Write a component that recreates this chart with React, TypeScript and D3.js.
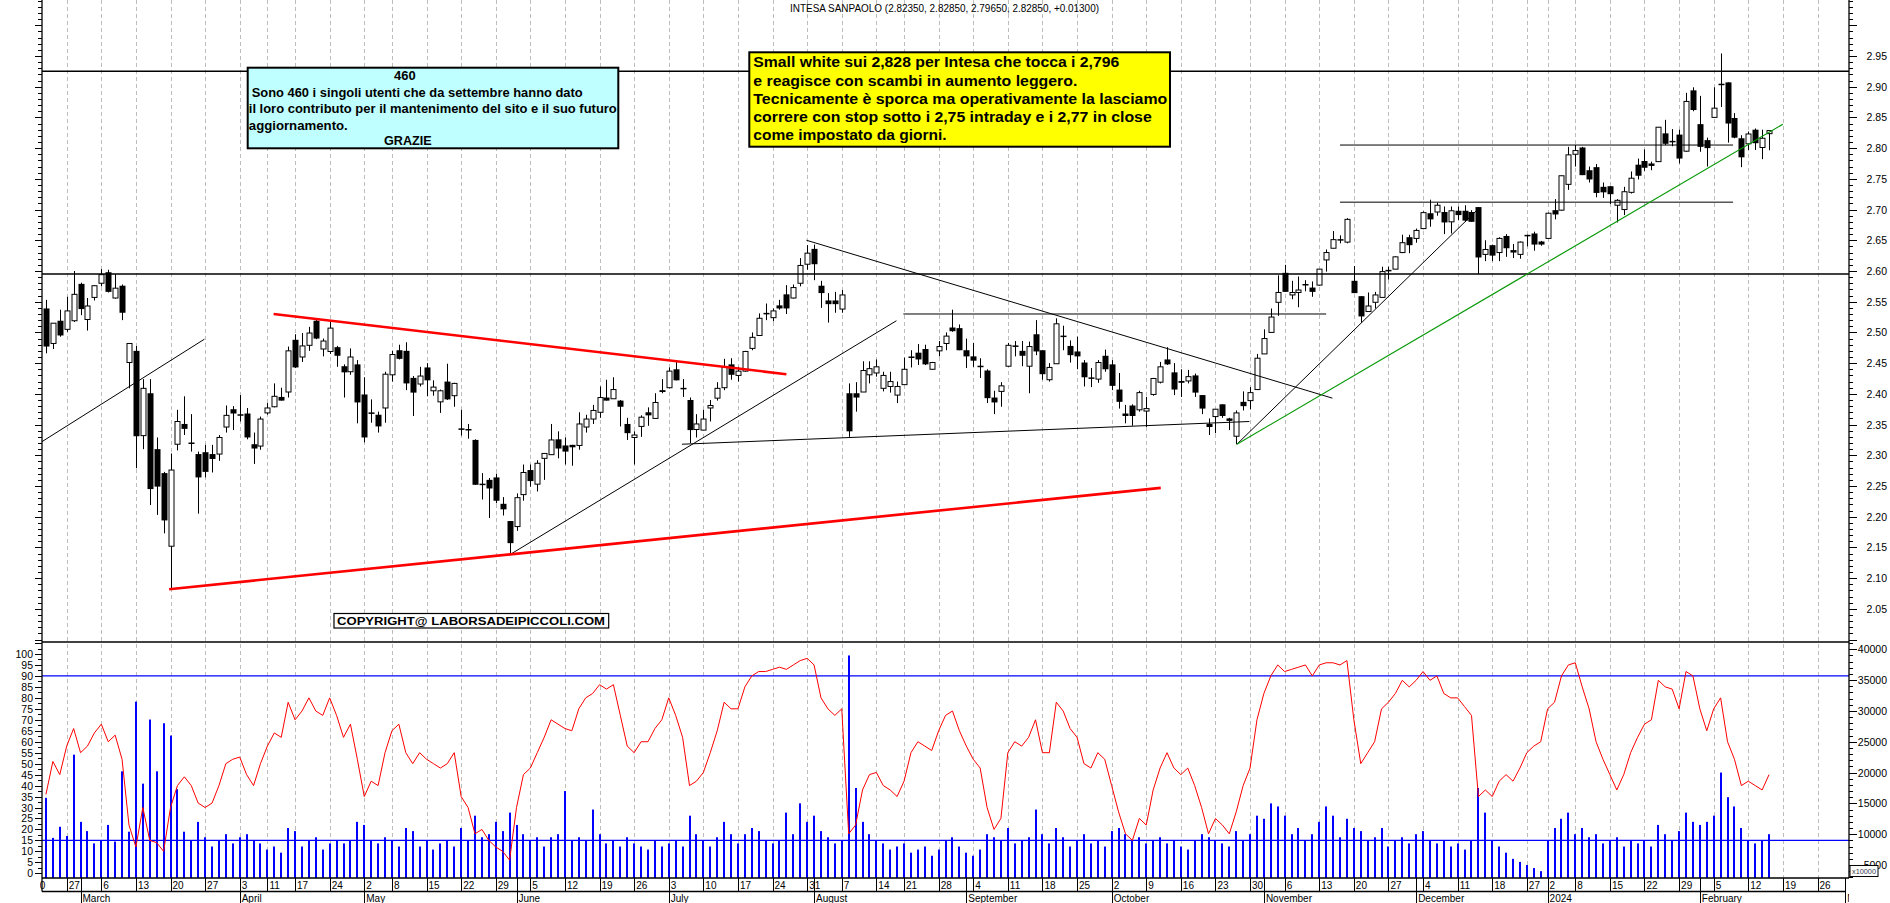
import React from "react";
import * as d3 from "d3";

// ---------- DATA ----------
const TITLE = "INTESA SANPAOLO (2.82350, 2.82850, 2.79650, 2.82850, +0.01300)";
const CAL_START = "2023-02-20";
const CAL_END = "2024-03-08";
const HOLIDAYS = ["2023-04-07", "2023-04-10", "2023-05-01", "2023-08-15", "2023-12-25", "2023-12-26", "2024-01-01"];
const FIRST_CANDLE = "2023-02-22";
const REF_A = "2023-02-27"; // trading day 0 for line anchors
const REF_B = "2024-02-26";
const MONTHS = ["2024", "February", "March", "April", "May", "June", "July", "August", "September", "October", "November", "December"];

// open, high, low, close
const OHLC: [number, number, number, number][] = [
  [2.539, 2.553, 2.466, 2.477], [2.482, 2.515, 2.473, 2.515], [2.519, 2.537, 2.493, 2.495],
  [2.505, 2.558, 2.501, 2.535], [2.519, 2.600, 2.517, 2.562], [2.579, 2.581, 2.528, 2.538],
  [2.521, 2.556, 2.503, 2.543], [2.557, 2.577, 2.552, 2.576], [2.580, 2.603, 2.575, 2.594],
  [2.598, 2.602, 2.565, 2.566], [2.556, 2.595, 2.555, 2.572], [2.576, 2.578, 2.520, 2.532],
  [2.451, 2.482, 2.409, 2.482], [2.470, 2.478, 2.279, 2.331], [2.332, 2.424, 2.310, 2.409],
  [2.401, 2.424, 2.219, 2.245], [2.310, 2.329, 2.203, 2.249], [2.271, 2.273, 2.173, 2.194],
  [2.152, 2.303, 2.084, 2.276], [2.318, 2.374, 2.308, 2.355], [2.351, 2.396, 2.333, 2.343],
  [2.320, 2.367, 2.306, 2.320], [2.302, 2.306, 2.205, 2.264], [2.305, 2.317, 2.264, 2.273],
  [2.302, 2.317, 2.272, 2.294], [2.302, 2.333, 2.291, 2.329], [2.346, 2.381, 2.337, 2.365],
  [2.375, 2.380, 2.341, 2.368], [2.366, 2.398, 2.355, 2.366], [2.368, 2.377, 2.326, 2.329],
  [2.318, 2.337, 2.286, 2.311], [2.315, 2.363, 2.309, 2.359], [2.369, 2.385, 2.366, 2.377],
  [2.379, 2.417, 2.378, 2.396], [2.395, 2.410, 2.389, 2.389], [2.403, 2.477, 2.394, 2.470],
  [2.488, 2.497, 2.442, 2.443], [2.460, 2.499, 2.452, 2.478], [2.479, 2.509, 2.470, 2.499],
  [2.519, 2.523, 2.489, 2.490], [2.473, 2.490, 2.461, 2.486], [2.469, 2.518, 2.465, 2.507],
  [2.476, 2.478, 2.444, 2.462], [2.445, 2.448, 2.394, 2.435], [2.436, 2.474, 2.431, 2.460],
  [2.448, 2.455, 2.352, 2.386], [2.399, 2.427, 2.321, 2.329], [2.369, 2.391, 2.353, 2.369],
  [2.366, 2.371, 2.337, 2.347], [2.377, 2.436, 2.353, 2.432], [2.431, 2.470, 2.420, 2.464],
  [2.471, 2.480, 2.456, 2.457], [2.470, 2.484, 2.406, 2.417], [2.426, 2.429, 2.364, 2.402],
  [2.416, 2.444, 2.412, 2.429], [2.443, 2.450, 2.396, 2.422], [2.405, 2.422, 2.397, 2.411],
  [2.387, 2.407, 2.369, 2.405], [2.420, 2.449, 2.390, 2.391], [2.397, 2.418, 2.379, 2.417],
  [2.343, 2.374, 2.332, 2.343], [2.342, 2.351, 2.327, 2.342], [2.325, 2.326, 2.252, 2.252],
  [2.253, 2.271, 2.228, 2.253], [2.260, 2.263, 2.198, 2.246], [2.264, 2.270, 2.222, 2.226],
  [2.221, 2.232, 2.202, 2.212], [2.193, 2.193, 2.138, 2.157], [2.184, 2.238, 2.177, 2.231],
  [2.236, 2.285, 2.226, 2.272], [2.276, 2.285, 2.249, 2.258], [2.253, 2.292, 2.241, 2.287],
  [2.295, 2.303, 2.260, 2.303], [2.301, 2.351, 2.301, 2.325], [2.326, 2.339, 2.295, 2.311],
  [2.316, 2.329, 2.285, 2.306], [2.317, 2.317, 2.283, 2.313], [2.316, 2.370, 2.309, 2.351],
  [2.346, 2.366, 2.337, 2.359], [2.359, 2.382, 2.351, 2.373], [2.370, 2.412, 2.361, 2.394],
  [2.394, 2.423, 2.389, 2.389], [2.392, 2.427, 2.392, 2.407], [2.389, 2.390, 2.347, 2.379],
  [2.351, 2.361, 2.325, 2.336], [2.329, 2.339, 2.285, 2.333], [2.347, 2.365, 2.330, 2.362],
  [2.370, 2.378, 2.348, 2.365], [2.360, 2.401, 2.360, 2.386], [2.406, 2.424, 2.401, 2.403],
  [2.410, 2.443, 2.409, 2.437], [2.440, 2.455, 2.422, 2.422], [2.409, 2.424, 2.395, 2.407],
  [2.390, 2.394, 2.320, 2.341], [2.342, 2.367, 2.329, 2.351], [2.341, 2.374, 2.341, 2.359],
  [2.377, 2.390, 2.355, 2.381], [2.393, 2.419, 2.389, 2.409], [2.410, 2.457, 2.406, 2.444],
  [2.448, 2.458, 2.423, 2.431], [2.430, 2.444, 2.420, 2.437], [2.437, 2.470, 2.436, 2.469],
  [2.474, 2.500, 2.471, 2.492], [2.495, 2.531, 2.495, 2.523], [2.531, 2.547, 2.520, 2.529],
  [2.524, 2.539, 2.518, 2.535], [2.544, 2.553, 2.537, 2.539], [2.562, 2.577, 2.530, 2.539],
  [2.556, 2.578, 2.555, 2.573], [2.580, 2.621, 2.575, 2.609], [2.611, 2.642, 2.602, 2.629],
  [2.636, 2.643, 2.585, 2.611], [2.576, 2.584, 2.540, 2.564], [2.552, 2.564, 2.516, 2.546],
  [2.552, 2.566, 2.532, 2.546], [2.538, 2.569, 2.532, 2.561], [2.401, 2.417, 2.330, 2.339],
  [2.401, 2.419, 2.371, 2.394], [2.403, 2.453, 2.403, 2.438], [2.431, 2.453, 2.417, 2.441],
  [2.434, 2.456, 2.428, 2.444], [2.409, 2.436, 2.404, 2.430], [2.412, 2.436, 2.402, 2.420],
  [2.398, 2.420, 2.385, 2.412], [2.415, 2.459, 2.415, 2.440], [2.460, 2.471, 2.443, 2.458],
  [2.467, 2.481, 2.447, 2.456], [2.473, 2.480, 2.447, 2.448], [2.440, 2.452, 2.439, 2.451],
  [2.470, 2.486, 2.461, 2.477], [2.482, 2.500, 2.471, 2.494], [2.508, 2.537, 2.501, 2.502],
  [2.507, 2.513, 2.471, 2.471], [2.471, 2.490, 2.442, 2.461], [2.461, 2.483, 2.444, 2.454],
  [2.445, 2.458, 2.426, 2.445], [2.438, 2.440, 2.385, 2.393], [2.394, 2.405, 2.367, 2.386],
  [2.404, 2.419, 2.379, 2.413], [2.445, 2.483, 2.444, 2.479], [2.478, 2.486, 2.461, 2.478],
  [2.470, 2.486, 2.445, 2.462], [2.445, 2.485, 2.401, 2.477], [2.497, 2.520, 2.463, 2.469],
  [2.471, 2.471, 2.423, 2.432], [2.423, 2.450, 2.420, 2.443], [2.449, 2.523, 2.449, 2.514],
  [2.494, 2.511, 2.471, 2.494], [2.478, 2.487, 2.451, 2.463], [2.469, 2.493, 2.440, 2.461],
  [2.451, 2.455, 2.412, 2.427], [2.425, 2.442, 2.411, 2.426], [2.424, 2.455, 2.418, 2.451],
  [2.462, 2.472, 2.436, 2.440], [2.448, 2.455, 2.406, 2.413], [2.407, 2.434, 2.376, 2.387],
  [2.368, 2.382, 2.352, 2.364], [2.381, 2.383, 2.348, 2.364], [2.374, 2.405, 2.371, 2.402],
  [2.372, 2.395, 2.346, 2.376], [2.399, 2.426, 2.397, 2.425], [2.419, 2.452, 2.417, 2.444],
  [2.456, 2.476, 2.447, 2.448], [2.435, 2.450, 2.398, 2.407], [2.421, 2.440, 2.395, 2.418],
  [2.421, 2.439, 2.417, 2.428], [2.430, 2.433, 2.395, 2.402], [2.398, 2.398, 2.367, 2.376],
  [2.351, 2.360, 2.333, 2.346], [2.363, 2.375, 2.336, 2.375], [2.383, 2.383, 2.361, 2.364],
  [2.360, 2.361, 2.341, 2.356], [2.331, 2.373, 2.318, 2.369], [2.387, 2.404, 2.373, 2.380],
  [2.389, 2.411, 2.375, 2.402], [2.407, 2.465, 2.407, 2.458], [2.465, 2.505, 2.465, 2.490],
  [2.500, 2.539, 2.500, 2.525], [2.549, 2.593, 2.527, 2.565], [2.597, 2.610, 2.566, 2.566],
  [2.561, 2.584, 2.554, 2.565], [2.565, 2.591, 2.541, 2.569], [2.576, 2.585, 2.567, 2.578],
  [2.573, 2.583, 2.558, 2.566], [2.577, 2.603, 2.576, 2.603], [2.618, 2.635, 2.599, 2.630],
  [2.637, 2.665, 2.637, 2.651], [2.651, 2.658, 2.645, 2.649], [2.647, 2.686, 2.645, 2.684],
  [2.584, 2.608, 2.564, 2.564], [2.559, 2.559, 2.516, 2.526], [2.534, 2.565, 2.534, 2.543],
  [2.549, 2.566, 2.539, 2.561], [2.557, 2.607, 2.557, 2.599], [2.601, 2.607, 2.586, 2.601],
  [2.603, 2.624, 2.603, 2.623], [2.630, 2.659, 2.629, 2.646], [2.655, 2.659, 2.629, 2.642],
  [2.653, 2.669, 2.646, 2.666], [2.669, 2.697, 2.668, 2.695], [2.694, 2.716, 2.672, 2.684],
  [2.696, 2.711, 2.690, 2.707], [2.696, 2.705, 2.660, 2.679], [2.680, 2.705, 2.661, 2.698],
  [2.698, 2.705, 2.683, 2.691], [2.698, 2.707, 2.680, 2.682], [2.696, 2.699, 2.680, 2.680],
  [2.704, 2.704, 2.595, 2.622], [2.627, 2.650, 2.616, 2.635], [2.642, 2.643, 2.616, 2.625],
  [2.630, 2.655, 2.616, 2.653], [2.657, 2.660, 2.623, 2.637], [2.634, 2.644, 2.621, 2.630],
  [2.627, 2.648, 2.620, 2.647], [2.658, 2.659, 2.640, 2.658], [2.661, 2.664, 2.633, 2.643],
  [2.648, 2.649, 2.641, 2.643], [2.653, 2.695, 2.652, 2.694], [2.699, 2.717, 2.684, 2.692],
  [2.699, 2.755, 2.698, 2.755], [2.741, 2.802, 2.732, 2.789], [2.790, 2.805, 2.770, 2.796],
  [2.801, 2.802, 2.756, 2.756], [2.764, 2.770, 2.744, 2.749], [2.769, 2.774, 2.720, 2.727],
  [2.737, 2.744, 2.719, 2.728], [2.738, 2.738, 2.709, 2.725], [2.707, 2.717, 2.679, 2.715],
  [2.700, 2.737, 2.691, 2.729], [2.728, 2.762, 2.726, 2.751], [2.773, 2.783, 2.749, 2.755],
  [2.779, 2.798, 2.763, 2.768], [2.775, 2.778, 2.764, 2.771], [2.778, 2.834, 2.778, 2.834],
  [2.824, 2.846, 2.805, 2.807], [2.811, 2.831, 2.803, 2.811], [2.822, 2.830, 2.775, 2.783],
  [2.795, 2.890, 2.794, 2.876], [2.894, 2.899, 2.860, 2.862], [2.839, 2.885, 2.794, 2.802],
  [2.813, 2.817, 2.770, 2.800], [2.850, 2.899, 2.849, 2.865], [2.904, 2.954, 2.867, 2.904],
  [2.907, 2.907, 2.809, 2.840], [2.849, 2.857, 2.816, 2.817], [2.816, 2.821, 2.769, 2.785],
  [2.807, 2.827, 2.797, 2.823], [2.830, 2.832, 2.797, 2.808], [2.801, 2.830, 2.782, 2.816],
  [2.8235, 2.8285, 2.7965, 2.8285],
];

const VOLUME: number[] = [
  15900, 9400, 11200, 9700, 22900, 12000, 10500, 8500, 9000, 11500,
  8800, 20200, 10400, 31500, 18200, 28600, 20200, 28000, 26000, 17300,
  10400, 9000, 12000, 9500, 8000, 9000, 10000, 8500, 9500, 10000,
  9000, 8500, 7500, 8000, 7000, 11000, 10500, 8000, 9000, 9500,
  7500, 8500, 9000, 8500, 9000, 12000, 11500, 9000, 8500, 9500,
  9000, 8000, 11000, 10500, 8000, 9000, 7500, 8500, 9000, 8000,
  11000, 9000, 13000, 9500, 10000, 12000, 10500, 13500, 11500, 10000,
  9000, 9500, 8000, 9500, 10000, 17000, 9000, 9500, 9000, 14000,
  10000, 8500, 9000, 8000, 9500, 8500, 8000, 7500, 9000, 8000,
  8500, 9000, 8000, 13000, 10000, 9000, 8000, 9500, 12000, 10000,
  8500, 10000, 11000, 10500, 9000, 8500, 9000, 13500, 10000, 15000,
  12000, 13000, 10500, 9500, 8500, 9000, 39000, 17500, 12000, 10000,
  9000, 8500, 7500, 8000, 8500, 7000, 7500, 8000, 6500, 7500,
  9000, 9500, 8000, 7000, 6500, 7500, 10000, 9500, 9000, 11000,
  8500, 9000, 9500, 14000, 10000, 8500, 11000, 9500, 8000, 9000,
  10000, 8500, 9000, 8000, 10500, 11000, 10000, 9000, 9500, 8500,
  9000, 9500, 8500, 9000, 8000, 7500, 9000, 10000, 9500, 9000,
  8500, 8000, 10500, 9000, 10000, 13000, 12500, 15000, 14500, 13000,
  10000, 11000, 9000, 10000, 12000, 14500, 13000, 9500, 12500, 11000,
  10500, 9000, 9500, 11000, 8000, 9000, 9500, 8500, 10000, 10500,
  9000, 8500, 9000, 8000, 8500, 7500, 9000, 17500, 13500, 9000,
  8000, 7000, 6000, 5500, 5000, 4500, 4000, 9000, 11000, 12500,
  13500, 10000, 11000, 9500, 10000, 8500, 9000, 9500, 8000, 9000,
  8500, 9000, 8000, 11500, 10000, 9000, 10500, 13500, 12000, 11500,
  12000, 13000, 20000, 16000, 14500, 11000, 9000, 8500, 9000, 10000,
];

const OSC: number[] = [
  36, 51, 45, 58, 66, 55, 58, 64, 68, 60,
  63, 52, 22, 12, 30, 15, 14, 10, 30, 40,
  44, 40, 32, 30, 32, 40, 50, 52, 53, 45,
  40, 50, 58, 64, 62, 78, 70, 74, 80, 74,
  72, 80, 72, 62, 68, 52, 35, 42, 40, 55,
  65, 68, 55, 50, 55, 52, 50, 48, 50, 55,
  35, 30, 18, 20, 15, 12, 10, 6, 30, 45,
  48, 55, 62, 70, 68, 66, 65, 75, 80, 82,
  86, 84, 86, 72, 58, 55, 60, 60, 66, 70,
  80, 72, 62, 40, 42, 46, 55, 65, 78, 75,
  75, 85, 90, 92, 92, 93, 94, 93, 95, 97,
  98, 95, 80, 75, 72, 75, 18, 22, 38, 45,
  46, 40, 38, 35, 42, 55, 60, 58, 56, 65,
  72, 74, 65, 58, 52, 48, 30, 20, 25, 55,
  60, 58, 62, 70, 55, 55, 78, 74, 66, 62,
  50, 48, 55, 52, 40, 28, 18, 15, 25, 22,
  38, 48, 55, 48, 45, 48, 40, 30, 18, 25,
  22, 18, 28, 40, 48, 70, 82, 90, 95, 92,
  93, 94, 95, 90, 95, 96, 96, 95, 97, 70,
  50, 55, 60, 75, 78, 82, 88, 85, 88, 92,
  88, 90, 82, 80, 80, 76, 72, 35, 38, 35,
  42, 45, 42, 48, 55, 58, 60, 75, 78, 90,
  95, 96, 85, 75, 60, 52, 45, 38, 45, 55,
  62, 68, 70, 88, 85, 84, 75, 92, 90, 75,
  65, 75, 80, 60, 52, 40, 42, 40, 38, 45,
];

// trend lines: [tradingDayFrom, priceFrom, tradingDayTo, priceTo] (day 0 = 2023-02-27)
const BLACK_LINES: [number, number, number, number][] = [
  [-3.6, 2.322, 19.9, 2.489],
  [64.0, 2.138, 119.9, 2.519],
  [88.9, 2.318, 170.9, 2.355],
  [120.9, 2.530, 182, 2.530],
  [106.9, 2.650, 182.9, 2.393],
  [169.1, 2.318, 203.7, 2.698],
  [184, 2.712, 240.8, 2.712],
  [184, 2.805, 240.8, 2.805],
];
const RED_LINES: [number, number, number, number][] = [
  [29.9, 2.530, 104.0, 2.432],
  [14.8, 2.082, 158.1, 2.247],
];
const GREEN_LINES: [number, number, number, number][] = [[169.1, 2.318, 248, 2.839]];
const LEVELS = [2.925, 2.595];
const OSC_LEVELS = [90, 15];

const PRICE_LABELS = d3.range(2.05, 2.951, 0.05);
const OSC_LABELS = d3.range(0, 101, 5);
const VOL_LABELS = d3.range(5000, 40001, 5000);

const NOTE_BLUE = ["460", "Sono 460 i singoli utenti che da settembre hanno dato", "il loro contributo per il mantenimento del sito e il suo futuro", "aggiornamento.", "GRAZIE"];
const NOTE_YELLOW = [
  "Small white sui 2,828 per Intesa che tocca i 2,796",
  "e reagisce con scambi in aumento leggero.",
  "Tecnicamente è sporca ma operativamente la lasciamo",
  "correre con stop sotto i 2,75 intraday e i 2,77 in close",
  "come impostato da giorni.",
];
const COPYRIGHT = "COPYRIGHT@ LABORSADEIPICCOLI.COM";

// ---------- helpers ----------
const isoOf = (d: Date) => d.toISOString().slice(0, 10);
function buildCalendar(): Date[] {
  const out: Date[] = [];
  const d = new Date(CAL_START + "T12:00:00Z");
  const end = new Date(CAL_END + "T12:00:00Z");
  while (d <= end) {
    const wd = d.getUTCDay();
    if (wd !== 0 && wd !== 6 && !HOLIDAYS.includes(isoOf(d))) out.push(new Date(d));
    d.setUTCDate(d.getUTCDate() + 1);
  }
  return out;
}

const FONT = "'Liberation Sans', Arial, sans-serif";

export default function App() {
  const cal = buildCalendar();
  const kA = cal.findIndex((d) => isoOf(d) === REF_A);
  const kB = cal.findIndex((d) => isoOf(d) === REF_B);
  const kFirst = cal.findIndex((d) => isoOf(d) === FIRST_CANDLE);

  const L = 42, R = 1849, PT = 0, PB = 642, LB = 878, DR = 891.5;
  const xk = d3.scaleLinear().domain([kA, kB]).range([66.7, 1817.5]);
  const xi = (i: number) => xk(i + kA);
  const yP = d3.scaleLinear().domain([2.0, 3.04]).range([639.6, 0.66]);
  const yO = d3.scaleLinear().domain([0, 100]).range([873.3, 654]);
  const yV = d3.scaleLinear().domain([5000, 40000]).range([865, 649.3]);

  const weekTicks: { x: number; label: string }[] = [];
  const monthTicks: { x: number; label: string }[] = [];
  cal.forEach((d, k) => {
    const prev = cal[k - 1];
    if (!prev || d.getUTCDay() <= prev.getUTCDay() || (d.getTime() - prev.getTime()) > 4 * 86400000)
      weekTicks.push({ x: xk(k), label: String(d.getUTCDate()) });
    if (prev && d.getUTCMonth() !== prev.getUTCMonth())
      monthTicks.push({ x: xk(k), label: MONTHS[d.getUTCMonth()] });
  });

  const candles = OHLC.map((c, j) => ({ x: xk(kFirst + j), o: c[0], h: c[1], l: c[2], c: c[3] }));
  const oscLine = d3.line<number>().x((_, j) => xk(kFirst + j)).y((v) => yO(v))(OSC) || "";

  const priceTicks = d3.range(200, 305).map((v) => v / 100);
  const oscTicks = d3.range(-2.5, 105.1, 2.5);
  const volTicks = d3.range(3000, 41001, 1000);

  const seg = (a: [number, number, number, number]) => ({ x1: xi(a[0]), y1: yP(a[1]), x2: xi(a[2]), y2: yP(a[3]) });

  return (
    <svg width={1890} height={903} style={{ position: "absolute", left: 0, top: 0, background: "#fff" }} fontFamily={FONT}>
      <defs>
        <clipPath id="cpUp"><rect x={L} y={PT} width={R - L} height={PB - PT} /></clipPath>
        <clipPath id="cpLo"><rect x={L} y={PB} width={R - L} height={LB - PB} /></clipPath>
        <clipPath id="cpDate"><rect x={40} y={LB} width={R - 40} height={903 - LB} /></clipPath>
      </defs>
      <rect x={0} y={0} width={1890} height={903} fill="#fff" />

      <g stroke="#bdbdbd" strokeWidth={1} strokeDasharray="4,3">
        {weekTicks.filter((t) => t.x > L + 1 && t.x < R - 1).map((t, i) => (
          <line key={i} x1={Math.round(t.x) + 0.5} x2={Math.round(t.x) + 0.5} y1={0} y2={LB} />
        ))}
      </g>

      <g clipPath="url(#cpUp)">
        {candles.map((d, j) => {
          const up = d.c >= d.o;
          const top = yP(Math.max(d.o, d.c));
          const bot = yP(Math.min(d.o, d.c));
          const cx = Math.round(d.x) + 0.5;
          return (
            <g key={j}>
              <line x1={cx} x2={cx} y1={yP(d.h)} y2={yP(d.l)} stroke="#000" strokeWidth={1} />
              {bot - top < 1.5 ? (
                <rect x={cx - 3} y={top - 0.5} width={6} height={1.5} fill="#000" />
              ) : up ? (
                <rect x={cx - 2.5} y={top} width={5} height={bot - top} fill="#fff" stroke="#000" strokeWidth={1} />
              ) : (
                <rect x={cx - 3} y={top} width={6} height={bot - top} fill="#000" />
              )}
            </g>
          );
        })}
        {LEVELS.map((p, i) => (
          <line key={i} x1={L} x2={R} y1={yP(p)} y2={yP(p)} stroke="#000" strokeWidth={1.4} />
        ))}
        {BLACK_LINES.map((a, i) => <line key={i} {...seg(a)} stroke="#000" strokeWidth={1} />)}
        {GREEN_LINES.map((a, i) => <line key={i} {...seg(a)} stroke="#0a9a0a" strokeWidth={1.2} />)}
        {RED_LINES.map((a, i) => <line key={i} {...seg(a)} stroke="#ff0000" strokeWidth={2.6} />)}
      </g>

      <g clipPath="url(#cpLo)">
        {OSC_LEVELS.map((v, i) => (
          <line key={i} x1={L} x2={R} y1={yO(v)} y2={yO(v)} stroke="#0000ff" strokeWidth={1.2} />
        ))}
        {VOLUME.map((v, j) => {
          const x = Math.round(xk(kFirst + j));
          return <rect key={j} x={x - 1} y={yV(v)} width={2} height={LB - yV(v)} fill="#0000ff" />;
        })}
        <path d={oscLine} fill="none" stroke="#ff0000" strokeWidth={1} />
      </g>

      <g stroke="#000" strokeWidth={1.3}>
        <line x1={L} x2={L} y1={0} y2={DR} />
        <line x1={R} x2={R} y1={0} y2={LB} />
        <line x1={L} x2={R} y1={PB} y2={PB} />
        <line x1={L} x2={R} y1={LB} y2={LB} />
        <line x1={L} x2={1845} y1={DR} y2={DR} />
      </g>

      <g stroke="#000" strokeWidth={1}>
        {priceTicks.map((p, i) => {
          const major = Math.round(p * 100) % 5 === 0;
          const y = Math.round(yP(p)) + 0.5;
          return (
            <g key={i}>
              <line x1={R} x2={R + (major ? 8 : 4)} y1={y} y2={y} />
              <line x1={L} x2={L - (major ? 7 : 4)} y1={y} y2={y} />
            </g>
          );
        })}
        {oscTicks.map((v, i) => {
          const major = Math.abs(v % 5) < 0.01;
          const y = Math.round(yO(v)) + 0.5;
          if (y < PB + 1 || y > LB) return null;
          return <line key={i} x1={L} x2={L - (major ? 7 : 4)} y1={y} y2={y} />;
        })}
        {volTicks.map((v, i) => {
          const major = v % 5000 === 0;
          const y = Math.round(yV(v)) + 0.5;
          if (y < PB + 1 || y > LB) return null;
          return <line key={i} x1={R} x2={R + (major ? 8 : 4)} y1={y} y2={y} />;
        })}
      </g>

      <g fontSize={10.5} fill="#000" textAnchor="end">
        {PRICE_LABELS.map((p, i) => (
          <text key={i} x={1887} y={yP(p) + 4}>{p.toFixed(2)}</text>
        ))}
        {OSC_LABELS.map((v, i) => (
          <text key={i} x={33} y={yO(v) + 4}>{v}</text>
        ))}
        {VOL_LABELS.map((v, i) => (
          <text key={i} x={1887} y={yV(v) + 4}>{v}</text>
        ))}
      </g>
      <rect x={1850} y={865.5} width={28} height={11} fill="#fff" stroke="#000" strokeWidth={1} />
      <text x={1852} y={874} fontSize={7} fill="#334" textLength={24} lengthAdjust="spacingAndGlyphs">x10000</text>

      <g clipPath="url(#cpDate)">
        <g stroke="#000" strokeWidth={1}>
          {weekTicks.map((t, i) => (
            <line key={i} x1={Math.round(t.x) + 0.5} x2={Math.round(t.x) + 0.5} y1={LB} y2={DR} />
          ))}
          {monthTicks.map((t, i) => (
            <line key={i} x1={Math.round(t.x) + 0.5} x2={Math.round(t.x) + 0.5} y1={LB} y2={903} />
          ))}
        </g>
        <g fontSize={10} fill="#000">
          {weekTicks.map((t, i) => (
            <text key={i} x={t.x + 2} y={889}>{t.label}</text>
          ))}
          {monthTicks.map((t, i) => (
            <text key={i} x={t.x + 2} y={902}>{t.label}</text>
          ))}
        </g>
      </g>

      <text x={790} y={12} fontSize={10} fill="#000" textLength={309} lengthAdjust="spacingAndGlyphs">{TITLE}</text>

      <rect x={247.7} y={67.7} width={370.6} height={80.6} fill="#c0ffff" stroke="#000" strokeWidth={2} />
      <g fontSize={12} fontWeight="bold" fill="#000">
        <text x={394} y={80} textLength={21.7} lengthAdjust="spacingAndGlyphs">{NOTE_BLUE[0]}</text>
        <text x={251.7} y={97} textLength={331} lengthAdjust="spacingAndGlyphs">{NOTE_BLUE[1]}</text>
        <text x={248.8} y={112.6} textLength={368} lengthAdjust="spacingAndGlyphs">{NOTE_BLUE[2]}</text>
        <text x={248.8} y={130} textLength={99} lengthAdjust="spacingAndGlyphs">{NOTE_BLUE[3]}</text>
        <text x={384} y={145.3} textLength={47.7} lengthAdjust="spacingAndGlyphs">{NOTE_BLUE[4]}</text>
      </g>

      <rect x={749.3} y={52.3} width={420.7} height={94.4} fill="#ffff00" stroke="#000" strokeWidth={2} />
      <g fontSize={14} fontWeight="bold" fill="#000">
        {NOTE_YELLOW.map((s, i) => {
          const lens = [366, 324, 414, 398.4, 193.4];
          const ys = [62.3, 81, 99, 117, 134.5];
          return <text key={i} x={753.3} y={ys[i] + 5} textLength={lens[i]} lengthAdjust="spacingAndGlyphs">{s}</text>;
        })}
      </g>

      <rect x={334} y={613.5} width={274.7} height={14.5} fill="#fff" stroke="#000" strokeWidth={1.2} />
      <text x={337} y={624.8} fontSize={10} fontWeight="bold" fill="#000" textLength={268} lengthAdjust="spacingAndGlyphs">{COPYRIGHT}</text>
    </svg>
  );
}
